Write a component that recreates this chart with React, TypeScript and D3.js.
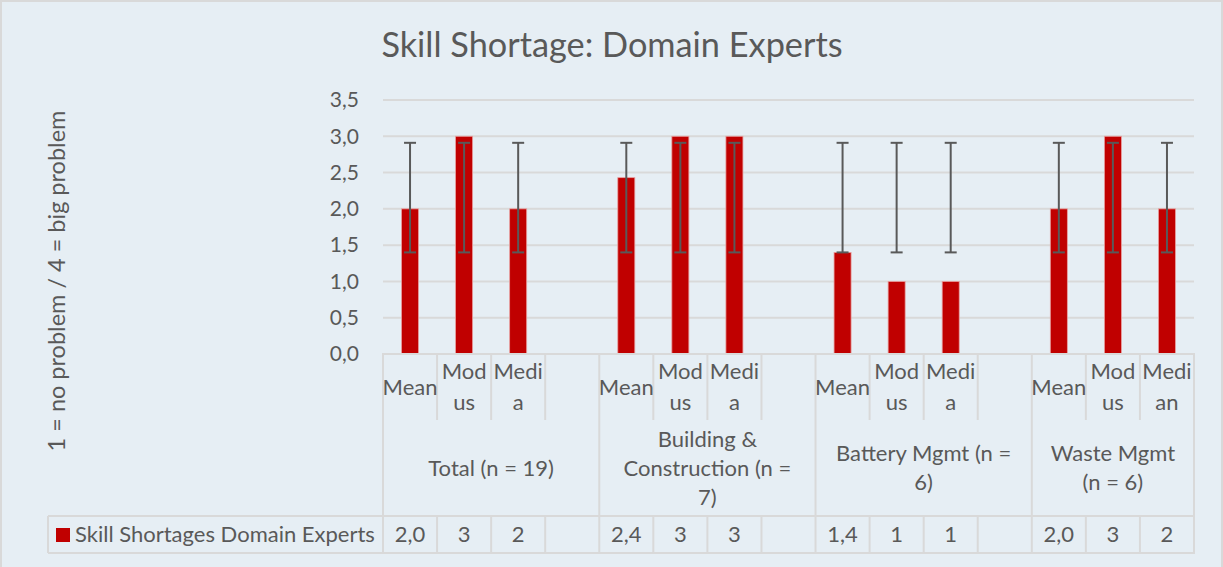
import React, { useEffect, useRef } from 'react';
import * as d3 from 'd3';

// slots in order; empty arrays / null = spacer slot between groups
const slotLabels: string[][] = [
  ['Mean'], ['Mod', 'us'], ['Medi', 'a'], [],
  ['Mean'], ['Mod', 'us'], ['Medi', 'a'], [],
  ['Mean'], ['Mod', 'us'], ['Medi', 'a'], [],
  ['Mean'], ['Mod', 'us'], ['Medi', 'an'],
];
const values: (number | null)[] = [2.0, 3, 2, null, 2.43, 3, 3, null, 1.4, 1, 1, null, 2.0, 3, 2];
const errLow: (number | null)[] = [1.4, 1.4, 1.4, null, 1.4, 1.4, 1.4, null, 1.4, 1.4, 1.4, null, 1.4, 1.4, 1.4];
const errHigh: (number | null)[] = [2.91, 2.91, 2.91, null, 2.91, 2.91, 2.91, null, 2.91, 2.91, 2.91, null, 2.91, 2.91, 2.91];
const tableLabels: string[] = ['2,0', '3', '2', '', '2,4', '3', '3', '', '1,4', '1', '1', '', '2,0', '3', '2'];

const groupLabels: string[][] = [
  ['Total (n = 19)'],
  ['Building &', 'Construction (n =', '7)'],
  ['Battery Mgmt (n =', '6)'],
  ['Waste Mgmt', '(n = 6)'],
];
const groupStarts = [0, 4, 8, 12];
const groupEnds = [4, 8, 12, 15];
const yTicks = [0, 0.5, 1, 1.5, 2, 2.5, 3, 3.5];

const seriesName = 'Skill Shortages Domain Experts';
const title = 'Skill Shortage: Domain Experts';
const yTitle = '1 = no problem / 4 = big problem';

const W = 1223;
const H = 567;
const FONT = 'Lato, "Open Sans", sans-serif';
const TEXT = '#595959';
const GRID = '#D9D9D9';
const BAR = '#C00000';
const LABEL_SIZE = '22px';

const App: React.FC = () => {
  const ref = useRef<SVGSVGElement | null>(null);

  useEffect(() => {
    if (!ref.current) return;
    const svg = d3.select(ref.current);
    svg.selectAll('*').remove();

    const plot = { left: 383, right: 1194, top: 100, bottom: 354 };
    const labelBottom = 420;
    const rowTop = 516;
    const rowBottom = 553;
    const legendLeft = 48;

    const x = d3.scaleBand<number>()
      .domain(d3.range(slotLabels.length))
      .range([plot.left, plot.right])
      .padding(0);
    const y = d3.scaleLinear().domain([0, 3.5]).range([plot.bottom, plot.top]);
    const bw = x.bandwidth() * 0.315;
    const fmt = (d: number) => d.toFixed(1).replace('.', ',');

    // background + frame
    svg.append('rect')
      .attr('x', 1).attr('y', 1).attr('width', W - 2).attr('height', H + 10)
      .attr('fill', '#E6EEF4').attr('stroke', GRID).attr('stroke-width', 2);

    // title
    svg.append('text')
      .attr('x', 612).attr('y', 57)
      .attr('text-anchor', 'middle')
      .attr('fill', TEXT)
      .style('font-family', FONT)
      .style('font-size', '34.3px')
      .text(title);

    // gridlines
    svg.append('g').selectAll('line')
      .data(yTicks.filter(t => t > 0))
      .enter().append('line')
      .attr('x1', plot.left).attr('x2', plot.right)
      .attr('y1', d => y(d)).attr('y2', d => y(d))
      .attr('stroke', GRID).attr('stroke-width', 2);

    // y tick labels
    svg.append('g').selectAll('text')
      .data(yTicks)
      .enter().append('text')
      .attr('x', 359).attr('y', d => y(d))
      .attr('dy', '0.35em')
      .attr('text-anchor', 'end')
      .attr('fill', TEXT)
      .style('font-family', FONT)
      .style('font-size', '21px')
      .text(d => fmt(d));

    // y axis title
    svg.append('text')
      .attr('transform', `translate(65,281) rotate(-90)`)
      .attr('text-anchor', 'middle')
      .attr('fill', TEXT)
      .style('font-family', FONT)
      .style('font-size', '23.5px')
      .text(yTitle);

    const bars = values.map((v, i) => ({ i, v, lo: errLow[i], hi: errHigh[i] })).filter(d => d.v !== null);

    // bars
    svg.append('g').selectAll('rect')
      .data(bars)
      .enter().append('rect')
      .attr('x', d => (x(d.i) as number) + x.bandwidth() / 2 - bw / 2)
      .attr('y', d => y(d.v as number))
      .attr('width', bw)
      .attr('height', d => y(0) - y(d.v as number))
      .attr('fill', BAR)
      .attr('stroke', '#E8A0A0')
      .attr('stroke-width', 0.8);

    // error bars
    const eg = svg.append('g').attr('stroke', '#595959').attr('stroke-width', 2);
    bars.forEach(d => {
      const cx = (x(d.i) as number) + x.bandwidth() / 2;
      eg.append('line').attr('x1', cx).attr('x2', cx).attr('y1', y(d.lo as number)).attr('y2', y(d.hi as number));
      [d.lo, d.hi].forEach(v => {
        eg.append('line').attr('x1', cx - 6).attr('x2', cx + 6).attr('y1', y(v as number)).attr('y2', y(v as number));
      });
    });

    // axis + table lines
    const lines = svg.append('g').attr('stroke', GRID).attr('stroke-width', 2);
    lines.append('line').attr('x1', plot.left - 1).attr('x2', plot.right + 1).attr('y1', plot.bottom).attr('y2', plot.bottom);
    lines.append('line').attr('x1', legendLeft).attr('x2', plot.right + 1).attr('y1', rowTop).attr('y2', rowTop);
    lines.append('line').attr('x1', legendLeft).attr('x2', plot.right + 1).attr('y1', rowBottom).attr('y2', rowBottom);
    lines.append('line').attr('x1', legendLeft).attr('x2', legendLeft).attr('y1', rowTop).attr('y2', rowBottom);

    const boundaries = d3.range(slotLabels.length + 1);
    boundaries.forEach(b => {
      const bx = b < slotLabels.length ? (x(b) as number) : plot.right;
      const isGroup = groupStarts.includes(b) || b === slotLabels.length;
      if (isGroup) {
        lines.append('line').attr('x1', bx).attr('x2', bx).attr('y1', plot.bottom).attr('y2', rowBottom);
      } else {
        lines.append('line').attr('x1', bx).attr('x2', bx).attr('y1', plot.bottom).attr('y2', labelBottom);
        lines.append('line').attr('x1', bx).attr('x2', bx).attr('y1', rowTop).attr('y2', rowBottom);
      }
    });

    const lineH = 31;
    // slot labels
    slotLabels.forEach((ls, i) => {
      const cx = (x(i) as number) + x.bandwidth() / 2;
      const cy = (plot.bottom + labelBottom) / 2;
      ls.forEach((l, k) => {
        svg.append('text')
          .attr('x', cx)
          .attr('y', cy + (k - (ls.length - 1) / 2) * lineH)
          .attr('dy', '0.35em')
          .attr('text-anchor', 'middle')
          .attr('fill', TEXT)
          .style('font-family', FONT)
          .style('font-size', LABEL_SIZE)
          .text(l);
      });
    });

    // group labels
    groupLabels.forEach((ls, g) => {
      const x0 = x(groupStarts[g]) as number;
      const x1 = groupEnds[g] < slotLabels.length ? (x(groupEnds[g]) as number) : plot.right;
      const cx = (x0 + x1) / 2;
      const cy = (labelBottom + rowTop) / 2;
      ls.forEach((l, k) => {
        svg.append('text')
          .attr('x', cx)
          .attr('y', cy + (k - (ls.length - 1) / 2) * 29)
          .attr('dy', '0.35em')
          .attr('text-anchor', 'middle')
          .attr('fill', TEXT)
          .style('font-family', FONT)
          .style('font-size', LABEL_SIZE)
          .text(l);
      });
    });

    // data table row
    tableLabels.forEach((t, i) => {
      svg.append('text')
        .attr('x', (x(i) as number) + x.bandwidth() / 2)
        .attr('y', (rowTop + rowBottom) / 2)
        .attr('dy', '0.35em')
        .attr('text-anchor', 'middle')
        .attr('fill', TEXT)
        .style('font-family', FONT)
        .style('font-size', LABEL_SIZE)
        .text(t);
    });

    // legend key
    svg.append('rect')
      .attr('x', 56).attr('y', 528).attr('width', 14).attr('height', 14)
      .attr('fill', BAR);
    svg.append('text')
      .attr('x', 75).attr('y', (rowTop + rowBottom) / 2)
      .attr('dy', '0.35em')
      .attr('fill', TEXT)
      .style('font-family', FONT)
      .style('font-size', LABEL_SIZE)
      .text(seriesName);
  }, []);

  return (
    <svg ref={ref} width={W} height={H} style={{ position: 'absolute', left: 0, top: 0, display: 'block' }} />
  );
};

export default App;
